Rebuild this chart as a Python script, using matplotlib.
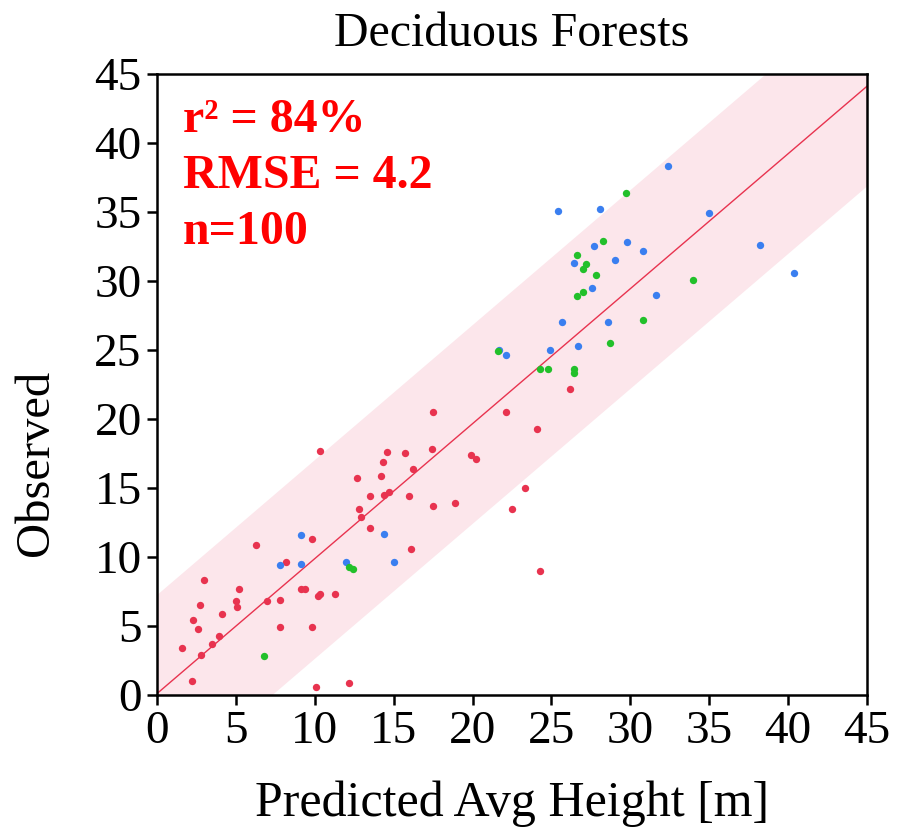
import matplotlib
matplotlib.use("Agg")
import matplotlib.pyplot as plt
import numpy as np

plt.rcParams['font.family'] = ['Liberation Serif', 'DejaVu Serif']

title = "Deciduous Forests"
xlabel = "Predicted Avg Height [m]"
ylabel = "Observed"
ticks = [0, 5, 10, 15, 20, 25, 30, 35, 40, 45]

red_x = [1.6, 2.2, 2.8, 3.5, 3.9, 2.6, 2.3, 2.7, 3.0, 4.1, 5.0, 5.1, 5.2, 6.3, 7.0, 7.8, 7.8, 8.2,
         9.1, 9.4, 9.8, 9.8, 10.2, 10.3, 10.1, 11.3, 12.2, 13.5, 16.1, 10.3, 12.7, 13.5, 12.8, 12.9,
         14.6, 14.3, 14.2, 14.4, 14.7, 15.7, 16.2, 16.0, 17.5, 17.4, 17.5, 18.9, 19.9, 20.2, 22.1,
         24.1, 23.3, 22.5, 24.3, 26.2]
red_y = [3.4, 1.0, 2.9, 3.7, 4.3, 4.8, 5.4, 6.5, 8.3, 5.9, 6.8, 6.4, 7.7, 10.9, 6.8, 6.9, 4.9, 9.6,
         7.7, 7.7, 11.3, 4.9, 7.2, 7.3, 0.6, 7.3, 0.9, 12.1, 10.6, 17.7, 15.7, 14.4, 13.5, 12.9,
         17.6, 16.9, 15.9, 14.5, 14.7, 17.5, 16.4, 14.4, 20.5, 17.8, 13.7, 13.9, 17.4, 17.1, 20.5,
         19.3, 15.0, 13.5, 9.0, 22.2]

blue_x = [7.8, 9.1, 9.1, 14.4, 12.0, 15.0, 32.4, 25.4, 28.1, 35.0, 27.7, 29.8, 30.8, 26.4, 29.0,
          27.6, 31.6, 25.7, 28.6, 24.9, 26.7, 21.7, 22.1, 38.2, 40.4]
blue_y = [9.4, 11.6, 9.5, 11.7, 9.6, 9.6, 38.3, 35.1, 35.2, 34.9, 32.5, 32.8, 32.2, 31.3, 31.5,
          29.5, 29.0, 27.0, 27.0, 25.0, 25.3, 25.0, 24.6, 32.6, 30.6]

green_x = [6.8, 12.2, 12.4, 29.7, 28.3, 26.6, 27.0, 27.2, 27.8, 26.6, 27.0, 34.0, 30.8, 28.7,
           21.6, 24.3, 24.8, 26.4, 26.4]
green_y = [2.8, 9.3, 9.1, 36.4, 32.9, 31.9, 30.9, 31.2, 30.4, 28.9, 29.2, 30.1, 27.2, 25.5,
           24.9, 23.6, 23.6, 23.6, 23.3]

stats_lines = ["r\u00b2 = 84%", "RMSE = 4.2", "n=100"]

fit_slope = 0.978
fit_intercept = 0.1
band_half = 7.2

fig = plt.figure(figsize=(9.15, 8.35), dpi=100)
ax = fig.add_axes([0.1716, 0.1677, 0.7759, 0.7437])

xs = np.array([0, 45])
ys = fit_slope * xs + fit_intercept
ax.fill_between(xs, ys - band_half, ys + band_half, color='#fce6eb', lw=0, zorder=1)
ax.plot(xs, ys, color='#e8334f', lw=1.0, zorder=2)

ax.scatter(red_x, red_y, s=28, color='#e8334f', lw=0, zorder=3)
ax.scatter(blue_x, blue_y, s=28, color='#3a7ff0', lw=0, zorder=3)
ax.scatter(green_x, green_y, s=28, color='#22c02a', lw=0, zorder=3)

ax.set_xlim(0, 45)
ax.set_ylim(0, 45)
ax.set_xticks(ticks)
ax.set_yticks(ticks)
ax.tick_params(direction='out', length=7, width=1.8, labelsize=34, pad=4)
for s in ax.spines.values():
    s.set_linewidth(1.8)

ax.set_title(title, fontsize=34.5, pad=20)
ax.set_xlabel(xlabel, fontsize=36, labelpad=20)
ax.set_ylabel(ylabel, fontsize=35)
ax.yaxis.set_label_coords(-0.14, 0.374)

for txt, yb in zip(stats_lines, [0.9066, 0.8164, 0.7262]):
    ax.text(0.0366, yb, txt, transform=ax.transAxes, fontsize=34.5, fontweight='bold',
            color='#ff0000', va='baseline', ha='left')

fig.savefig("out.png", dpi=100)
